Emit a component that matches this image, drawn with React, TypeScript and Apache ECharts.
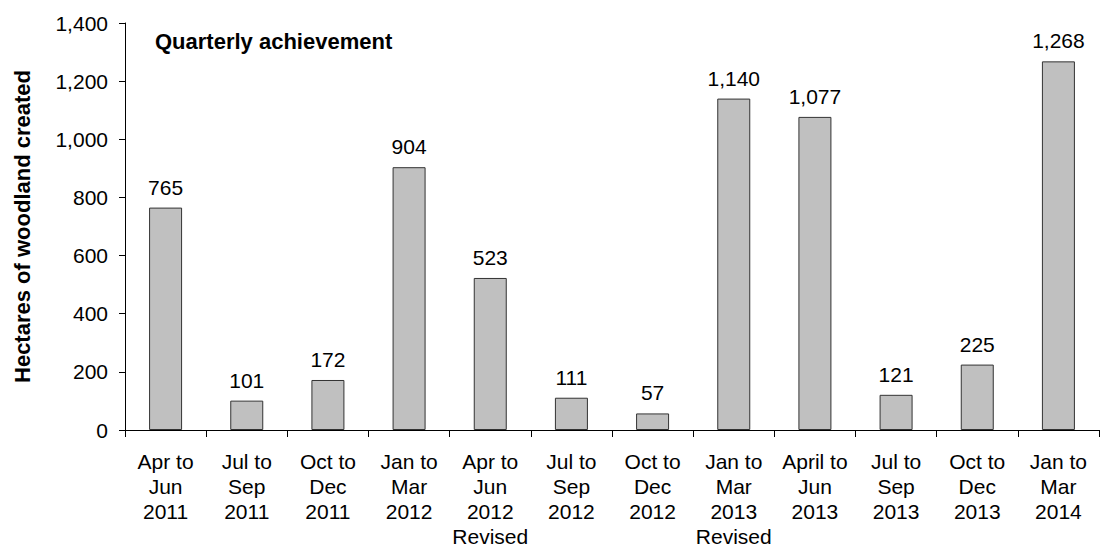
import React, { useEffect, useRef } from "react";
import * as echarts from "echarts";

const categories = [
  "Apr to\nJun\n2011",
  "Jul to\nSep\n2011",
  "Oct to\nDec\n2011",
  "Jan to\nMar\n2012",
  "Apr to\nJun\n2012\nRevised",
  "Jul to\nSep\n2012",
  "Oct to\nDec\n2012",
  "Jan to\nMar\n2013\nRevised",
  "April to\nJun\n2013",
  "Jul to\nSep\n2013",
  "Oct to\nDec\n2013",
  "Jan to\nMar\n2014",
];
const values = [765, 101, 172, 904, 523, 111, 57, 1140, 1077, 121, 225, 1268];
const yMin = 0;
const yMax = 1400;
const yInterval = 200;
const titleText = "Quarterly achievement";
const yAxisName = "Hectares of woodland created";

const fmt = (v: number) => v.toLocaleString("en-US");
const FONT = "'Liberation Sans', Arial, sans-serif";

export default function App() {
  const ref = useRef<HTMLDivElement>(null);
  useEffect(() => {
    if (!ref.current) return;
    const chart = echarts.init(ref.current, undefined, { renderer: "svg" });
    chart.setOption({
      animation: false,
      textStyle: { fontFamily: FONT },
      title: {
        text: titleText,
        left: 150,
        top: 25,
        textStyle: { fontFamily: FONT, fontSize: 22, fontWeight: "bold", color: "#000" },
      },
      grid: {
        left: 125,
        right: 1,
        top: 23,
        bottom: 121,
        containLabel: false,
        outerBoundsMode: "none",
      },
      xAxis: {
        type: "category",
        data: categories,
        axisLine: { lineStyle: { color: "#000", width: 1 } },
        axisTick: { show: true, length: 7, lineStyle: { color: "#000" } },
        axisLabel: {
          interval: 0,
          color: "#000",
          fontSize: 21,
          lineHeight: 25,
          margin: 19,
          fontFamily: FONT,
        },
      },
      yAxis: {
        type: "value",
        min: yMin,
        max: yMax,
        interval: yInterval,
        name: yAxisName,
        nameLocation: "middle",
        nameGap: 92,
        nameTextStyle: { fontFamily: FONT, fontSize: 22, fontWeight: "bold", color: "#000" },
        axisLine: { show: true, lineStyle: { color: "#000", width: 1 } },
        axisTick: { show: true, length: 6, lineStyle: { color: "#000" } },
        splitLine: { show: false },
        axisLabel: {
          color: "#000",
          fontSize: 21,
          margin: 17,
          fontFamily: FONT,
          formatter: (v: number) => fmt(v),
        },
      },
      series: [
        {
          type: "bar",
          data: values,
          barWidth: 33,
          itemStyle: { color: "#c0c0c0", borderColor: "#333", borderWidth: 1 },
          label: {
            show: true,
            position: "top",
            distance: 10,
            color: "#000",
            fontSize: 21,
            fontFamily: FONT,
            formatter: (p: any) => fmt(p.value),
          },
        },
      ],
    });
    return () => chart.dispose();
  }, []);
  return (
    <div
      ref={ref}
      style={{ position: "absolute", left: 0, top: 0, width: 1100, height: 551, background: "#fff" }}
    />
  );
}
